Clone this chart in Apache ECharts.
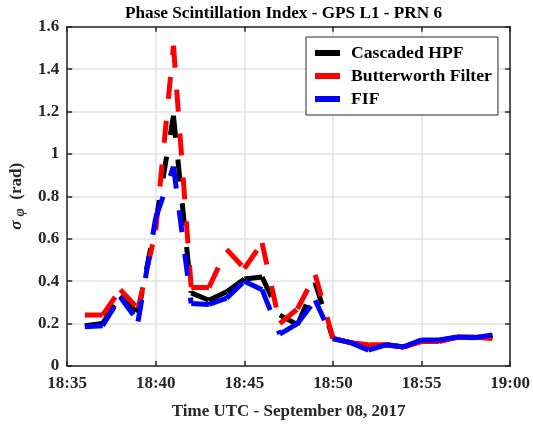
<!DOCTYPE html>
<html>
<head>
<meta charset="utf-8">
<script src="https://cdn.jsdelivr.net/npm/echarts@6/dist/echarts.min.js"></script>
<style>html,body{margin:0;padding:0;background:#fff;}#c{width:533px;height:427px;}</style>
</head>
<body>
<div id="c"></div>
<script>
// ---- data ----
const times = ['18:36','18:37','18:38','18:39','18:40','18:41','18:42','18:43','18:44','18:45','18:46','18:47',
               '18:48','18:49','18:50','18:51','18:52','18:53','18:54','18:55','18:56','18:57','18:58','18:59'];
const cascadedHPF = [0.19,0.20,0.33,0.25,0.68,1.18,0.345,0.31,0.35,0.41,0.42,0.24,
                     0.195,0.39,0.13,0.11,0.09,0.10,0.09,0.12,0.12,0.135,0.135,0.14];
const butterworth = [0.24,0.24,0.36,0.27,0.64,1.51,0.37,0.37,0.55,0.46,0.58,0.20,
                     0.27,0.43,0.13,0.11,0.10,0.10,0.09,0.115,0.115,0.135,0.135,0.13];
const fif = [0.185,0.19,0.325,0.21,0.70,0.94,0.295,0.29,0.32,0.40,0.36,0.15,
             0.20,0.31,0.128,0.11,0.075,0.10,0.09,0.123,0.123,0.137,0.133,0.146];
const seriesNames = ['Cascaded HPF','Butterworth Filter','FIF'];
const xTickLabels = ['18:35','18:40','18:45','18:50','18:55','19:00'];
const yTickLabels = ['0','0.2','0.4','0.6','0.8','1','1.2','1.4','1.6'];

// ---- build ----
const FONT = 'Liberation Serif';
const AX = '#262626';
function toMin(t){ const p = t.split(':').map(Number); return (p[0]-18)*60 + p[1] - 35; }
const xs = times.map(toMin);
function segments(vals){
  const out = [];
  for (let i = 0; i < vals.length - 1; i++) out.push([xs[i], vals[i], xs[i+1], vals[i+1]]);
  return out;
}
function mkSeries(name, vals, color){
  return {
    type: 'custom', name: name, xAxisIndex: 0, yAxisIndex: 0,
    itemStyle: { color: color },
    clip: true,
    encode: { x: [0, 2], y: [1, 3] },
    data: segments(vals),
    renderItem: function(params, api){
      const p1 = api.coord([api.value(0), api.value(1)]);
      const p2 = api.coord([api.value(2), api.value(3)]);
      return { type: 'line', shape: { x1: p1[0], y1: p1[1], x2: p2[0], y2: p2[1] },
               style: { stroke: color, lineWidth: 5, lineDash: [22, 22], lineCap: 'butt', fill: null } };
    }
  };
}
const labelStyle = { fontFamily: FONT, fontWeight: 'bold', fontSize: 17, color: AX };
const chart = echarts.init(document.getElementById('c'), null, { renderer: 'canvas' });
chart.setOption({
  animation: false,
  backgroundColor: '#fff',
  title: { text: 'Phase Scintillation Index - GPS L1 - PRN 6', left: 120, top: 0,
           textStyle: { fontFamily: FONT, fontWeight: 'bold', fontSize: 17.2, color: '#000' } },
  grid: { left: 65.5, right: 21, top: 26.7, bottom: 61, containLabel: false },
  legend: {
    orient: 'vertical', left: 306, top: 37, padding: [7, 6, 7, 9], itemGap: 5,
    itemWidth: 25, itemHeight: 6, backgroundColor: '#fff', borderColor: AX, borderWidth: 1,
    textStyle: { fontFamily: FONT, fontWeight: 'bold', fontSize: 17.7, color: '#000', padding: [0,0,0,6] },
    data: seriesNames.map(n => ({ name: n, icon: 'rect' }))
  },
  xAxis: [
    { type: 'value', min: 0, max: 25, interval: 5, position: 'bottom',
      name: 'Time UTC - September 08, 2017', nameLocation: 'middle', nameGap: 37,
      nameTextStyle: labelStyle,
      axisLine: { show: true, onZero: false, lineStyle: { color: AX, width: 1.5 } },
      axisTick: { show: true, inside: true, length: 5, lineStyle: { color: AX, width: 1.5 } },
      axisLabel: Object.assign({ margin: 9, formatter: v => xTickLabels[Math.round(v/5)] }, labelStyle),
      splitLine: { show: true, lineStyle: { color: '#e2e2e2', width: 1.5 } } },
    { type: 'value', min: 0, max: 25, interval: 5, position: 'top',
      axisLine: { show: true, onZero: false, lineStyle: { color: AX, width: 1.5 } },
      axisTick: { show: true, inside: true, length: 5, lineStyle: { color: AX, width: 1.5 } },
      axisLabel: { show: false }, splitLine: { show: false } }
  ],
  yAxis: [
    { type: 'value', min: 0, max: 1.6, interval: 0.2, position: 'left',
      name: '{s|σ} {p|φ}  (rad)', nameLocation: 'middle', nameGap: 36, nameRotate: 90,
      nameTextStyle: Object.assign({}, labelStyle, {
        rich: {
          s: { fontFamily: FONT, fontWeight: 'bold', fontStyle: 'italic', fontSize: 17, color: AX },
          p: { fontFamily: FONT, fontWeight: 'bold', fontStyle: 'italic', fontSize: 14, color: AX, padding: [7,0,0,0] }
        } }),
      axisLine: { show: true, onZero: false, lineStyle: { color: AX, width: 1.5 } },
      axisTick: { show: true, inside: true, length: 5, lineStyle: { color: AX, width: 1.5 } },
      axisLabel: Object.assign({ margin: 8, formatter: v => yTickLabels[Math.round(v/0.2)] }, labelStyle),
      splitLine: { show: true, lineStyle: { color: '#e2e2e2', width: 1.5 } } },
    { type: 'value', min: 0, max: 1.6, interval: 0.2, position: 'right',
      axisLine: { show: true, onZero: false, lineStyle: { color: AX, width: 1.5 } },
      axisTick: { show: true, inside: true, length: 5, lineStyle: { color: AX, width: 1.5 } },
      axisLabel: { show: false }, splitLine: { show: false } }
  ],
  series: [
    mkSeries(seriesNames[0], cascadedHPF, '#000000'),
    mkSeries(seriesNames[1], butterworth, '#ff0000'),
    mkSeries(seriesNames[2], fif, '#0000ff')
  ]
});
</script>
</body>
</html>
